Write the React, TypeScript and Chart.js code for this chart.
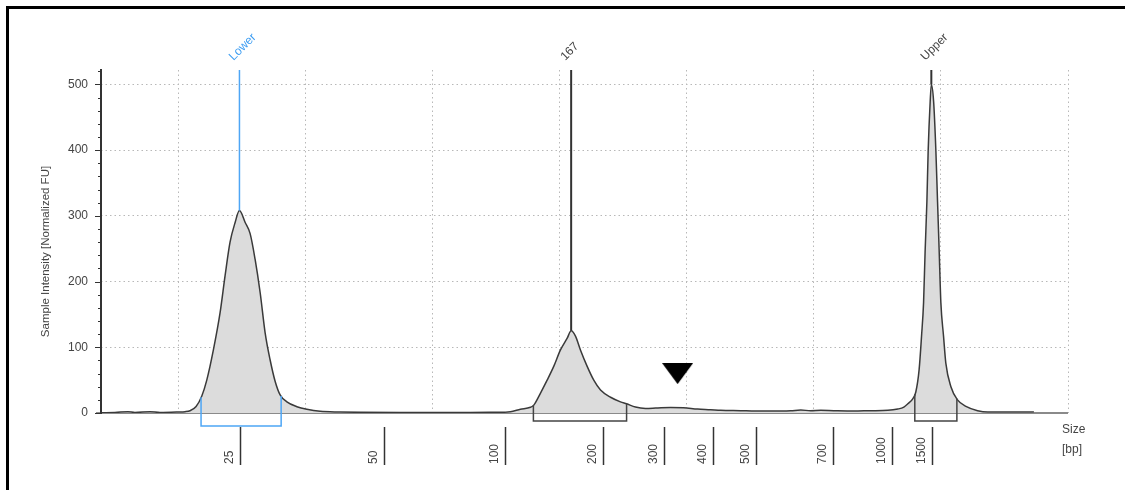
import React, { useEffect, useRef } from "react";
import { Chart, registerables } from "chart.js";

Chart.register(...registerables);

// Electropherogram trace: migration position (run units) and intensity [Normalized FU]
const curveX = [
  -0.606, -0.496, -0.394, -0.339, -0.22, -0.142, 0, 0.055, 0.094, 0.142,
  0.187, 0.226, 0.278, 0.331, 0.37, 0.409, 0.449, 0.483, 0.528, 0.567,
  0.606, 0.646, 0.685, 0.724, 0.764, 0.803, 0.856, 0.935, 1.013, 1.118,
  1.276, 1.433, 1.748, 2.142, 2.457, 2.535, 2.614, 2.693, 2.772, 2.798,
  2.85, 2.903, 2.955, 3.008, 3.061, 3.092, 3.126, 3.165, 3.218, 3.27,
  3.323, 3.402, 3.48, 3.528, 3.598, 3.677, 3.756, 3.874, 3.976, 4.087,
  4.189, 4.268, 4.425, 4.543, 4.661, 4.819, 4.898, 4.976, 5.055, 5.157,
  5.315, 5.449, 5.583, 5.661, 5.709, 5.74, 5.78, 5.803, 5.829, 5.848,
  5.864, 5.876, 5.89, 5.9, 5.916, 5.925, 5.943, 5.961, 5.974, 5.987,
  6.0, 6.021, 6.039, 6.079, 6.131, 6.197, 6.289, 6.37, 6.551, 6.732,
];
const curveY = [
  0.5, 0.8, 2, 0.8, 2, 0.8, 1.5, 2, 3.5, 10,
  26, 50, 96, 153, 209, 260, 290, 308, 290, 273,
  234, 183, 122, 81, 48, 27.5, 17, 9.6, 5.6, 2.5,
  1.5, 1, 0.8, 0.8, 1, 1, 2, 5.6, 8.7, 12,
  30, 50, 71, 96, 114, 125, 117, 96, 71, 50,
  35, 24, 17, 14, 9, 7, 7.5, 8.5, 8, 6,
  5, 4, 3.5, 3, 3, 3.5, 4.5, 3.5, 4, 3.5,
  3, 3.5, 4, 6, 9, 14, 22, 32, 66, 117,
  168, 245, 321, 398, 474, 500, 474, 398, 321, 245,
  168, 117, 76, 40, 20, 10, 3.5, 1.5, 1.5, 1.5,
];

// Size ladder (bp) and its migration positions
const ladderSizes = ["25", "50", "100", "200", "300", "400", "500", "700", "1000", "1500"];
const ladderPos = [0.488, 1.622, 2.575, 3.346, 3.819, 4.205, 4.543, 5.15, 5.614, 5.929];

// Called peaks
const peakLabels = ["Lower", "167", "Upper"];
const peakPos = [0.483, 3.092, 5.925];

// Integration regions
const regionStart = [0.181, 2.795, 5.795];
const regionEnd = [0.811, 3.528, 6.126];

// Arrowhead annotation
const arrowX = [3.929];
const arrowY = [60];

// Axis ticks and titles
const yTickValues = [0, 100, 200, 300, 400, 500];
const xGridValues = [0, 1, 2, 3, 4, 5, 6, 7];
const yMinorStep = 20;
const yTitle = "Sample Intensity [Normalized FU]";
const xUnitLines = ["Size", "[bp]"];

// Styles
const FONT = "'Liberation Sans', Arial, sans-serif";
const peakLineColors = ["#4ea6f5", "#333333", "#333333"];
const peakTextColors = ["#3d9df2", "#444444", "#444444"];
const peakLineWidths = [1.5, 2, 2];
const regionColors = ["#4ea6f5", "#444444", "#444444"];
const regionDepth = [13, 8, 8];

function interp(x: number): number {
  for (let i = 1; i < curveX.length; i++) {
    if (x <= curveX[i]) {
      const t = (x - curveX[i - 1]) / (curveX[i] - curveX[i - 1]);
      return curveY[i - 1] + t * (curveY[i] - curveY[i - 1]);
    }
  }
  return 0;
}

const decorPlugin = {
  id: "decor",
  beforeDraw(chart: any) {
    const { ctx } = chart;
    ctx.save();
    ctx.fillStyle = "#ffffff";
    ctx.fillRect(0, 0, chart.width, chart.height);
    ctx.restore();
  },
  beforeDatasetsDraw(chart: any) {
    const { ctx, chartArea: a, scales } = chart;
    const y0 = scales.y.getPixelForValue(0);
    ctx.save();
    ctx.strokeStyle = "#8a8a8a";
    ctx.lineWidth = 2;
    ctx.beginPath();
    ctx.moveTo(a.left - 5, y0);
    ctx.lineTo(a.right, y0);
    ctx.stroke();
    ctx.restore();
  },
  afterDatasetsDraw(chart: any) {
    const { ctx, chartArea: a, scales } = chart;
    const xs = scales.x;
    const ys = scales.y;
    const y0 = ys.getPixelForValue(0);
    ctx.save();

    // y axis line and tick marks
    ctx.strokeStyle = "#333333";
    ctx.lineWidth = 2;
    ctx.beginPath();
    ctx.moveTo(a.left, a.top - 1);
    ctx.lineTo(a.left, y0 + 1);
    ctx.stroke();
    ctx.lineWidth = 1;
    for (let v = 0; v <= ys.max; v += yMinorStep) {
      const py = Math.round(ys.getPixelForValue(v)) + 0.5;
      const major = v % 100 === 0;
      ctx.beginPath();
      ctx.moveTo(a.left - (major ? 6 : 3), py);
      ctx.lineTo(a.left, py);
      ctx.stroke();
    }

    // y axis title
    ctx.save();
    ctx.translate(46, (a.top + y0) / 2 + 10);
    ctx.rotate(-Math.PI / 2);
    ctx.fillStyle = "#444444";
    ctx.font = `11.5px ${FONT}`;
    ctx.textAlign = "center";
    ctx.textBaseline = "middle";
    ctx.fillText(yTitle, 0, 0);
    ctx.restore();

    // integration region brackets
    regionStart.forEach((s, i) => {
      const e = regionEnd[i];
      const xa = xs.getPixelForValue(s);
      const xb = xs.getPixelForValue(e);
      const ya = ys.getPixelForValue(interp(s));
      const yb = ys.getPixelForValue(interp(e));
      const yBot = y0 + regionDepth[i];
      ctx.strokeStyle = regionColors[i];
      ctx.lineWidth = 1.5;
      ctx.beginPath();
      ctx.moveTo(xa, ya);
      ctx.lineTo(xa, yBot);
      ctx.lineTo(xb, yBot);
      ctx.lineTo(xb, yb);
      ctx.stroke();
    });

    // peak marker lines and labels
    peakPos.forEach((p, i) => {
      const px = xs.getPixelForValue(p);
      const py = ys.getPixelForValue(interp(p));
      ctx.strokeStyle = peakLineColors[i];
      ctx.lineWidth = peakLineWidths[i];
      ctx.beginPath();
      ctx.moveTo(px, a.top);
      ctx.lineTo(px, py);
      ctx.stroke();
      ctx.save();
      ctx.translate(px - 6, a.top - 9);
      ctx.rotate(-Math.PI / 4);
      ctx.fillStyle = peakTextColors[i];
      ctx.font = `12px ${FONT}`;
      ctx.textAlign = "left";
      ctx.textBaseline = "alphabetic";
      ctx.fillText(peakLabels[i], 0, 0);
      ctx.restore();
    });

    // size ladder
    ctx.strokeStyle = "#333333";
    ctx.fillStyle = "#444444";
    ctx.font = `12px ${FONT}`;
    ladderPos.forEach((p, i) => {
      const px = Math.round(xs.getPixelForValue(p)) + 0.5;
      ctx.lineWidth = 1.5;
      ctx.beginPath();
      ctx.moveTo(px, y0 + 14);
      ctx.lineTo(px, y0 + 52);
      ctx.stroke();
      ctx.save();
      ctx.translate(px - 11, y0 + 51);
      ctx.rotate(-Math.PI / 2);
      ctx.textAlign = "left";
      ctx.textBaseline = "middle";
      ctx.fillText(ladderSizes[i], 0, 0);
      ctx.restore();
    });

    // axis unit label
    ctx.fillStyle = "#444444";
    ctx.textAlign = "left";
    ctx.textBaseline = "middle";
    xUnitLines.forEach((t, i) => ctx.fillText(t, a.right - 6, y0 + 17 + i * 20));

    // frame (top and left edges)
    ctx.fillStyle = "#000000";
    ctx.fillRect(6, 6, chart.width, 3);
    ctx.fillRect(6, 6, 3, chart.height);

    ctx.restore();
  },
};

function makeArrowHead(): HTMLCanvasElement {
  const c = document.createElement("canvas");
  c.width = 31;
  c.height = 21;
  const g = c.getContext("2d")!;
  g.fillStyle = "#000000";
  g.beginPath();
  g.moveTo(0, 0);
  g.lineTo(31, 0);
  g.lineTo(15.5, 21);
  g.closePath();
  g.fill();
  return c;
}

export default function App() {
  const canvasRef = useRef<HTMLCanvasElement | null>(null);

  useEffect(() => {
    if (!canvasRef.current) return;
    Chart.defaults.font.family = FONT;
    const arrow = makeArrowHead();
    const chart = new Chart(canvasRef.current, {
      type: "line",
      data: {
        datasets: [
          {
            label: "trace",
            data: curveX.map((x, i) => ({ x, y: curveY[i] })),
            borderColor: "#3a3a3a",
            borderWidth: 1.5,
            backgroundColor: "#dcdcdc",
            fill: "origin",
            pointRadius: 0,
            cubicInterpolationMode: "monotone",
          },
          {
            label: "arrow",
            data: arrowX.map((x, i) => ({ x, y: arrowY[i] })),
            showLine: false,
            pointStyle: arrow as any,
            pointRadius: 10,
            borderWidth: 0,
            backgroundColor: "#000000",
          },
        ],
      },
      options: {
        responsive: false,
        animation: false,
        devicePixelRatio: 1,
        layout: { padding: { left: 0, top: 70, right: 57, bottom: 77 } },
        plugins: { legend: { display: false }, tooltip: { enabled: false } },
        events: [],
        scales: {
          x: {
            type: "linear",
            min: -0.606,
            max: 7,
            ticks: { display: false },
            grid: { color: "#b8b8b8", lineWidth: 1, drawTicks: false },
            border: { display: false, dash: [1.5, 3] },
            afterBuildTicks: (scale: any) => {
              scale.ticks = xGridValues.map((v) => ({ value: v }));
            },
            afterFit: (scale: any) => {
              scale.height = 0;
            },
          },
          y: {
            type: "linear",
            min: 0,
            max: 522,
            ticks: { color: "#444444", font: { size: 12, family: FONT }, padding: 13 },
            grid: {
              color: (c: any) => (c.tick && c.tick.value === 0 ? "rgba(0,0,0,0)" : "#b8b8b8"),
              lineWidth: 1,
              drawTicks: false,
            },
            border: { display: false, dash: [1.5, 3] },
            title: { display: false },
            afterBuildTicks: (scale: any) => {
              scale.ticks = yTickValues.map((v) => ({ value: v }));
            },
            afterFit: (scale: any) => {
              scale.width = 101;
            },
          },
        },
      },
      plugins: [decorPlugin],
    } as any);
    return () => chart.destroy();
  }, []);

  return (
    <div style={{ position: "absolute", left: 0, top: 0, width: 1125, height: 490, background: "#fff" }}>
      <canvas ref={canvasRef} width={1125} height={490} style={{ display: "block" }} />
    </div>
  );
}
